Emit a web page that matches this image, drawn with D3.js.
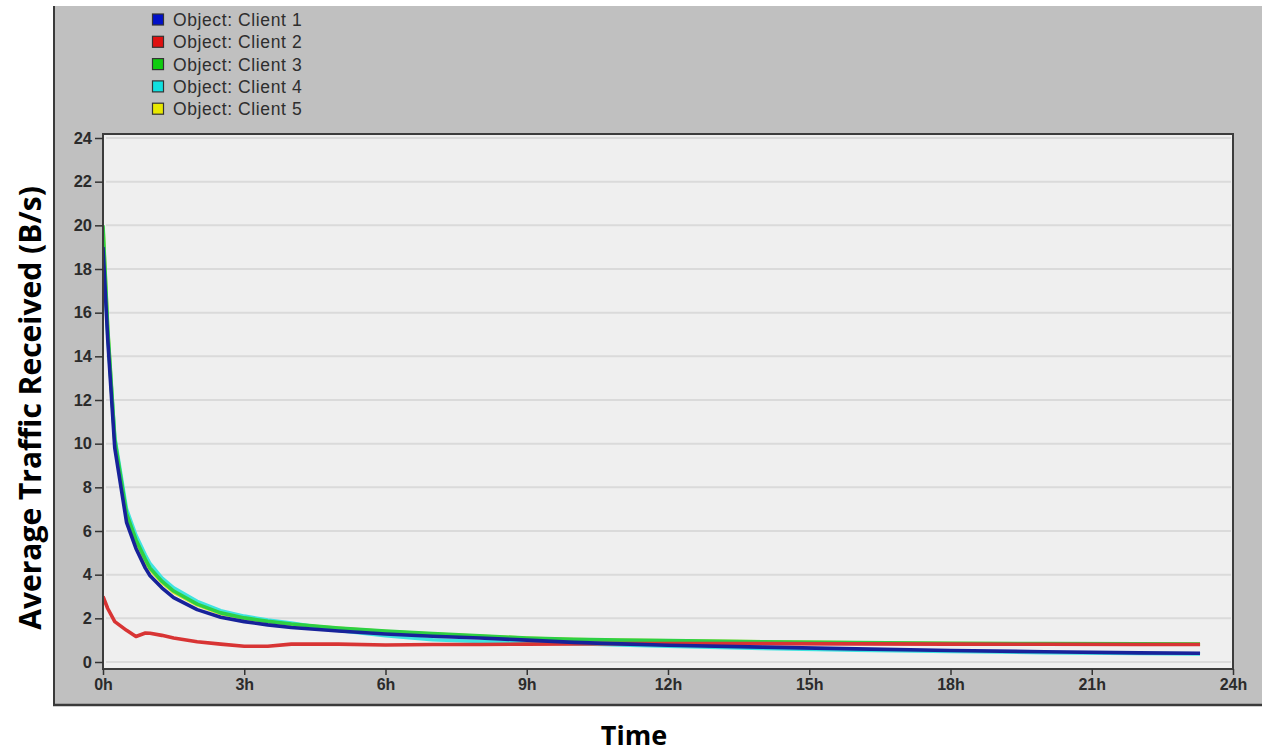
<!DOCTYPE html>
<html>
<head>
<meta charset="utf-8">
<script src="https://cdn.jsdelivr.net/npm/d3@7"></script>
<style>
  html, body { margin: 0; padding: 0; background: #ffffff; }
  svg { display: block; }
</style>
</head>
<body>
<svg id="chart" width="1262" height="753"></svg>
<script>
// ---- Data ----
const seriesNames = ["Object: Client 1", "Object: Client 2", "Object: Client 3", "Object: Client 4", "Object: Client 5"];
const hours   = [0, 0.1, 0.25, 0.5, 0.7, 0.9, 1, 1.25, 1.5, 2, 2.5, 3, 3.5, 4, 5, 6, 7, 8, 9, 10, 11, 12, 14, 16, 18, 20, 22, 23.3];
const client1 = [19, 14.8, 9.8, 6.4, 5.2, 4.3, 3.95, 3.4, 2.95, 2.4, 2.05, 1.85, 1.7, 1.58, 1.42, 1.28, 1.18, 1.1, 1.0, 0.9, 0.83, 0.77, 0.68, 0.6, 0.53, 0.47, 0.42, 0.4];
const client2 = [3.0, 2.45, 1.85, 1.45, 1.17, 1.33, 1.32, 1.22, 1.1, 0.93, 0.82, 0.72, 0.72, 0.82, 0.82, 0.78, 0.8, 0.8, 0.82, 0.83, 0.84, 0.85, 0.84, 0.83, 0.82, 0.81, 0.8, 0.8];
const client3 = [20, 15.3, 10.2, 6.8, 5.6, 4.7, 4.3, 3.7, 3.25, 2.65, 2.25, 2.02, 1.86, 1.74, 1.56, 1.42, 1.3, 1.2, 1.1, 1.04, 1.0, 0.98, 0.93, 0.89, 0.86, 0.84, 0.83, 0.82];
const client4 = [19.3, 15.0, 10.3, 7.0, 5.8, 4.9, 4.5, 3.85, 3.4, 2.78, 2.35, 2.1, 1.92, 1.78, 1.45, 1.2, 1.02, 0.94, 0.89, 0.84, 0.78, 0.72, 0.62, 0.54, 0.48, 0.43, 0.39, 0.37];
const client5 = [19.9, 15.2, 10.1, 6.7, 5.5, 4.6, 4.25, 3.65, 3.2, 2.62, 2.22, 2.0, 1.84, 1.72, 1.54, 1.4, 1.28, 1.18, 1.09, 1.03, 0.99, 0.97, 0.92, 0.88, 0.85, 0.83, 0.82, 0.81];
const yTicks = [0, 2, 4, 6, 8, 10, 12, 14, 16, 18, 20, 22, 24];
const xTicks = [0, 3, 6, 9, 12, 15, 18, 21, 24];
const xTickLabels = ["0h", "3h", "6h", "9h", "12h", "15h", "18h", "21h", "24h"];
const lineColors   = ["#17229a", "#d83434", "#2ed043", "#3fe3e0", "#e2e02a"];
const legendColors = ["#0010c8", "#e01010", "#10cc10", "#10e0e0", "#e8e800"];
const yTitle = "Average Traffic Received (B/s)";
const xTitle = "Time";

// ---- Layout ----
const svg = d3.select("#chart");
const panel = { left: 53, top: 6, right: 1262, bottom: 706 };
const plot = { left: 103, top: 134, right: 1233, bottom: 669 };

const x = d3.scaleLinear().domain([0, 24]).range([103, 1233]);
const y = d3.scaleLinear().domain([0, 24]).range([662, 138]);

// gray panel
svg.append("rect")
  .attr("x", panel.left).attr("y", panel.top)
  .attr("width", panel.right - panel.left).attr("height", panel.bottom - panel.top)
  .attr("fill", "#c0c0c0");
svg.append("line")
  .attr("x1", panel.left + 1).attr("x2", panel.left + 1)
  .attr("y1", panel.top).attr("y2", panel.bottom)
  .attr("stroke", "#3a3a3a").attr("stroke-width", 2);
svg.append("line")
  .attr("x1", panel.left).attr("x2", panel.right)
  .attr("y1", panel.bottom - 1).attr("y2", panel.bottom - 1)
  .attr("stroke", "#3a3a3a").attr("stroke-width", 2.5);

// plot background
svg.append("rect")
  .attr("x", plot.left).attr("y", plot.top)
  .attr("width", plot.right - plot.left).attr("height", plot.bottom - plot.top)
  .attr("fill", "#efefef");

// gridlines
svg.append("g").selectAll("line").data(yTicks).join("line")
  .attr("x1", plot.left + 3).attr("x2", plot.right - 2)
  .attr("y1", d => y(d)).attr("y2", d => y(d))
  .attr("stroke", "#dadada").attr("stroke-width", 2);

// series lines
const series = [client5, client4, client3, client2, client1];
const seriesColor = [lineColors[4], lineColors[3], lineColors[2], lineColors[1], lineColors[0]];
const line = d3.line().x((d, i) => x(hours[i])).y(d => y(d));
const clipId = "plotclip";
svg.append("clipPath").attr("id", clipId).append("rect")
  .attr("x", plot.left).attr("y", plot.top)
  .attr("width", plot.right - plot.left).attr("height", plot.bottom - plot.top);
svg.append("g").attr("clip-path", `url(#${clipId})`)
  .selectAll("path").data(series).join("path")
  .attr("d", d => line(d))
  .attr("fill", "none")
  .attr("stroke", (d, i) => seriesColor[i])
  .attr("stroke-width", 3.6)
  .attr("stroke-linejoin", "round")
  .attr("stroke-linecap", "butt");

// plot frame
svg.append("rect")
  .attr("x", plot.left).attr("y", plot.top)
  .attr("width", plot.right - plot.left).attr("height", plot.bottom - plot.top)
  .attr("fill", "none").attr("stroke", "#3c3c3c").attr("stroke-width", 2);

// axes
const yAxis = d3.axisLeft(y).tickValues(yTicks).tickSize(8).tickPadding(3).tickFormat(d3.format("d"));
const gy = svg.append("g").attr("transform", `translate(${plot.left},0)`).call(yAxis);
gy.select(".domain").remove();
gy.selectAll(".tick line").attr("stroke", "#333").attr("stroke-width", 1.5);
gy.selectAll(".tick text")
  .attr("fill", "#2b2b2b")
  .style("font-family", "'Liberation Sans', Arial, sans-serif")
  .style("font-size", "16.5px").style("font-weight", "bold");

const xAxis = d3.axisBottom(x).tickValues(xTicks).tickSize(6).tickPadding(4)
  .tickFormat((d, i) => xTickLabels[i]);
const gx = svg.append("g").attr("transform", `translate(0,${plot.bottom})`).call(xAxis);
gx.select(".domain").remove();
gx.selectAll(".tick line").attr("stroke", "#333").attr("stroke-width", 1.5);
gx.selectAll(".tick text")
  .attr("fill", "#2b2b2b")
  .style("font-family", "'Liberation Sans', Arial, sans-serif")
  .style("font-size", "16px").style("font-weight", "bold");

// legend
const legend = svg.append("g").selectAll("g").data(seriesNames).join("g")
  .attr("transform", (d, i) => `translate(152,${20 + i * 22.3})`);
legend.append("rect")
  .attr("x", 0.5).attr("y", -6).attr("width", 11).attr("height", 11)
  .attr("fill", (d, i) => legendColors[i])
  .attr("stroke", "#333").attr("stroke-width", 1.2);
legend.append("text")
  .attr("x", 21).attr("y", 6)
  .attr("fill", "#2e2e2e")
  .style("font-family", "'Liberation Sans', Arial, sans-serif")
  .style("font-size", "17.5px")
  .style("letter-spacing", "0.6px")
  .text(d => d);

// axis titles
svg.append("text")
  .attr("transform", `translate(41,408) rotate(-90)`)
  .attr("text-anchor", "middle")
  .attr("fill", "#000")
  .style("font-family", "'Open Sans', 'Liberation Sans', sans-serif")
  .style("font-size", "30px").style("font-weight", "bold")
  .text(yTitle);
svg.append("text")
  .attr("x", 634).attr("y", 745)
  .attr("text-anchor", "middle")
  .attr("fill", "#000")
  .style("font-family", "'Open Sans', 'Liberation Sans', sans-serif")
  .style("font-size", "27px").style("font-weight", "bold")
  .text(xTitle);
</script>
</body>
</html>
